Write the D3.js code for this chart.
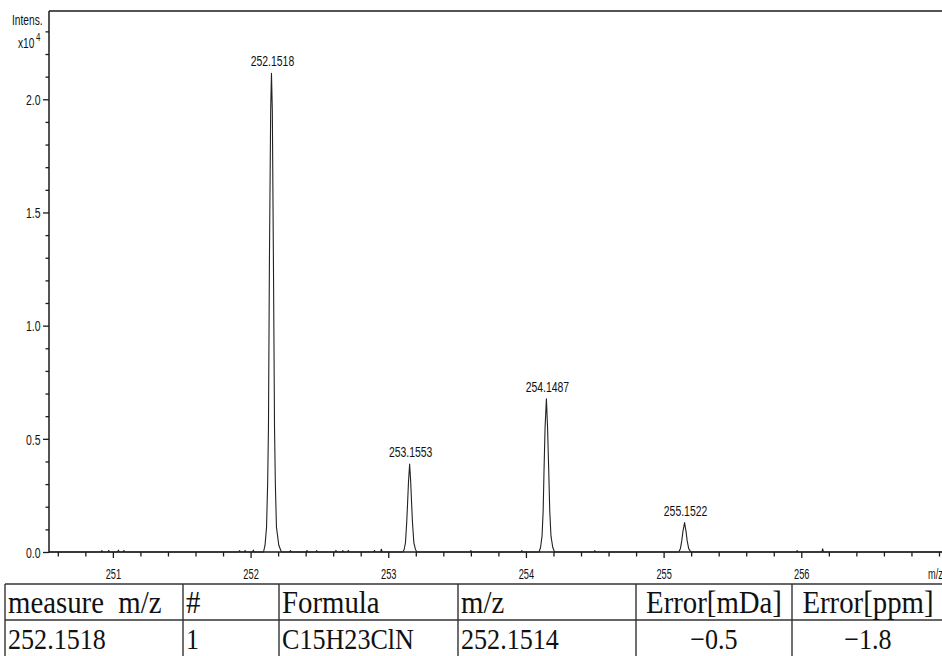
<!DOCTYPE html>
<html>
<head>
<meta charset="utf-8">
<script src="https://cdn.jsdelivr.net/npm/d3@7"></script>
<style>
  html, body { margin: 0; padding: 0; background: #fff; }
  svg { display: block; }
</style>
</head>
<body>
<script>
// Isotope cluster of C15H23ClN, profile spectrum (intensity in units of 10^4)
const peakLabels = ["252.1518", "253.1553", "254.1487", "255.1522"];
const peakApexMz = [252.1518, 253.1553, 254.1487, 255.1522];
const peakApexIntensity = [2.115, 0.388, 0.677, 0.13];

// Profile points [m/z, intensity] across each peak
const profile252 = [[252.094,0],[252.105,0.03],[252.116,0.11],[252.124,0.3],[252.130,0.55],[252.137,1.29],[252.146,1.95],[252.1518,2.115],[252.158,1.95],[252.166,1.29],[252.174,0.55],[252.180,0.3],[252.188,0.11],[252.205,0.03],[252.224,0]];
const profile253 = [[253.105,0],[253.115,0.01],[253.125,0.04],[253.134,0.13],[253.140,0.21],[253.147,0.31],[253.1553,0.388],[253.163,0.31],[253.170,0.21],[253.176,0.13],[253.186,0.04],[253.198,0.01],[253.210,0]];
const profile254 = [[254.095,0],[254.106,0.02],[254.117,0.07],[254.125,0.18],[254.131,0.35],[254.139,0.55],[254.1487,0.677],[254.157,0.55],[254.166,0.35],[254.173,0.18],[254.182,0.07],[254.195,0.02],[254.208,0]];
const profile255 = [[255.110,0],[255.122,0.015],[255.132,0.05],[255.140,0.09],[255.1522,0.13],[255.163,0.09],[255.171,0.05],[255.182,0.015],[255.198,0]];

// Small baseline signals [m/z, intensity]
const noiseSignals = [[250.92,0.006],[250.97,0.007],[251.04,0.008],[251.08,0.007],[251.92,0.006],[251.96,0.007],[252.02,0.008],[252.29,0.006],[252.41,0.007],[252.48,0.006],[252.62,0.007],[252.67,0.006],[252.71,0.007],[252.90,0.007],[252.95,0.012],[253.60,0.006],[253.97,0.006],[254.50,0.006],[255.97,0.006],[256.155,0.014]];

// Axis ticks
const yMajorTicks = [0, 0.5, 1.0, 1.5, 2.0];
const yTickLabels = ["0.0", "0.5", "1.0", "1.5", "2.0"];
const xMajorTicks = [251, 252, 253, 254, 255, 256];
const xTickLabels = ["251", "252", "253", "254", "255", "256"];

// Result table
const tableHeader = ["measure  m/z", "#", "Formula", "m/z", "Error[mDa]", "Error[ppm]"];
const tableRow = ["252.1518", "1", "C15H23ClN", "252.1514", "\u22120.5", "\u22121.8"];

const W = 942, H = 656;
const svg = d3.select("body").append("svg").attr("width", W).attr("height", H);

const plot = { left: 49, top: 11, right: 950, bottom: 552 };
const x = d3.scaleLinear().domain([250.536, 257.08]).range([plot.left, plot.right]);
const y = d3.scaleLinear().domain([0, 2.39]).range([plot.bottom, plot.top]);

const sansFont = "'Liberation Sans', Arial, sans-serif";
const narrow = 0.72;

svg.append("defs").append("clipPath").attr("id", "plotClip")
  .append("rect").attr("x", plot.left).attr("y", plot.top)
  .attr("width", plot.right - plot.left).attr("height", plot.bottom - plot.top + 1);

// Frame: top edge
svg.append("line").attr("x1", plot.left).attr("x2", W).attr("y1", plot.top).attr("y2", plot.top)
  .attr("stroke", "#1a1a1a").attr("stroke-width", 1.5);

// Y axis
const yMinor = d3.range(1, 24).map(d => d / 10).filter(v => !yMajorTicks.some(m => Math.abs(m - v) < 1e-9));
svg.append("g").attr("transform", `translate(${plot.left},0)`)
  .call(d3.axisLeft(y).tickValues(yMinor).tickSize(3.5).tickFormat(""))
  .call(g => g.select(".domain").remove())
  .call(g => g.selectAll("line").attr("stroke", "#1a1a1a").attr("stroke-width", 1.3));

const yAxis = svg.append("g").attr("transform", `translate(${plot.left},0)`)
  .call(d3.axisLeft(y).tickValues(yMajorTicks).tickSize(6).tickSizeOuter(0)
    .tickFormat((d, i) => yTickLabels[i]));
yAxis.select(".domain").attr("stroke", "#1a1a1a").attr("stroke-width", 1.5)
  .attr("d", `M0,${plot.top}V${plot.bottom}`);
yAxis.selectAll("line").attr("stroke", "#1a1a1a").attr("stroke-width", 1.3);
yAxis.selectAll("text")
  .attr("font-family", sansFont).attr("font-size", 14.5).attr("fill", "#111")
  .attr("x", -8.5 / narrow).attr("dy", "0.36em")
  .attr("transform", `scale(${narrow},1)`);

// X axis
const xMinor = d3.range(250.6, 257.05, 0.2).filter(v => !xMajorTicks.some(m => Math.abs(m - v) < 1e-6));
svg.append("g").attr("transform", `translate(0,${plot.bottom})`)
  .call(d3.axisBottom(x).tickValues(xMinor).tickSize(4.5).tickFormat(""))
  .call(g => g.select(".domain").remove())
  .call(g => g.selectAll("line").attr("stroke", "#1a1a1a").attr("stroke-width", 1.3));

const xAxis = svg.append("g").attr("transform", `translate(0,${plot.bottom})`)
  .call(d3.axisBottom(x).tickValues(xMajorTicks).tickSize(6).tickSizeOuter(0)
    .tickFormat((d, i) => xTickLabels[i]));
xAxis.select(".domain").attr("stroke", "#1a1a1a").attr("stroke-width", 1.5)
  .attr("d", `M${plot.left},0H${W}`);
xAxis.selectAll("line").attr("stroke", "#1a1a1a").attr("stroke-width", 1.3);
xAxis.selectAll("text")
  .attr("font-family", sansFont).attr("font-size", 14).attr("fill", "#111")
  .attr("y", 17).attr("dy", "0.71em")
  .attr("transform", `scale(0.66,1)`);

// Axis titles
svg.append("text").attr("transform", `translate(12,25) scale(0.68,1)`)
  .attr("font-family", sansFont).attr("font-size", 15).attr("fill", "#111").text("Intens.");
svg.append("text").attr("transform", `translate(18,48) scale(0.68,1)`)
  .attr("font-family", sansFont).attr("font-size", 15).attr("fill", "#111").text("x10");
svg.append("text").attr("transform", `translate(36,41) scale(0.72,1)`)
  .attr("font-family", sansFont).attr("font-size", 11).attr("fill", "#111").text("4");
svg.append("text").attr("transform", `translate(928,579) scale(0.66,1)`)
  .attr("font-family", sansFont).attr("font-size", 14).attr("fill", "#111").text("m/z");

// Assemble the spectrum trace
const points = [[x.domain()[0], 0], [x.domain()[1], 0]];
[profile252, profile253, profile254, profile255].forEach(p => p.forEach(d => points.push(d)));
noiseSignals.forEach(([m, v]) => {
  points.push([m - 0.006, 0], [m, v], [m + 0.006, 0]);
});
points.sort((a, b) => a[0] - b[0]);

const line = d3.line().x(d => x(d[0])).y(d => y(d[1]));
svg.append("path").datum(points)
  .attr("clip-path", "url(#plotClip)")
  .attr("fill", "none").attr("stroke", "#222").attr("stroke-width", 1.1)
  .attr("stroke-linejoin", "round")
  .attr("d", line);

// Peak annotations
svg.append("g").selectAll("text").data(peakLabels).join("text")
  .attr("transform", (d, i) => `translate(${x(peakApexMz[i]) + 1},${y(peakApexIntensity[i]) - 7}) scale(${narrow},1)`)
  .attr("text-anchor", "middle")
  .attr("font-family", sansFont).attr("font-size", 14.5).attr("fill", "#111")
  .text(d => d);

// Result table
const colEdges = [5, 183, 279, 458, 636, 792, 944];
const colAlign = ["start", "start", "start", "start", "middle", "middle"];
const rowEdges = [584, 620, 662];
const table = svg.append("g");
const tableStroke = "#333";
rowEdges.forEach(r => table.append("line").attr("x1", colEdges[0]).attr("x2", colEdges[colEdges.length - 1])
  .attr("y1", r).attr("y2", r).attr("stroke", tableStroke).attr("stroke-width", 1.4));
colEdges.forEach(c => table.append("line").attr("x1", c).attr("x2", c)
  .attr("y1", rowEdges[0]).attr("y2", rowEdges[rowEdges.length - 1]).attr("stroke", tableStroke).attr("stroke-width", 1.4));

const serifFont = "'Liberation Serif', 'Times New Roman', serif";
function cellX(i) {
  return colAlign[i] === "middle" ? (colEdges[i] + colEdges[i + 1]) / 2 : colEdges[i] + 3;
}
[[tableHeader, 613, 0.9, 32], [tableRow, 648.5, 0.87, 30]].forEach(([cells, base, sx, size]) => {
  table.append("g").selectAll("text").data(cells).join("text")
    .attr("transform", (d, i) => `translate(${cellX(i)},${base}) scale(${sx},1)`)
    .attr("text-anchor", (d, i) => colAlign[i])
    .attr("font-family", serifFont).attr("font-size", size).attr("fill", "#111")
    .style("white-space", "pre")
    .text(d => d);
});
</script>
</body>
</html>
